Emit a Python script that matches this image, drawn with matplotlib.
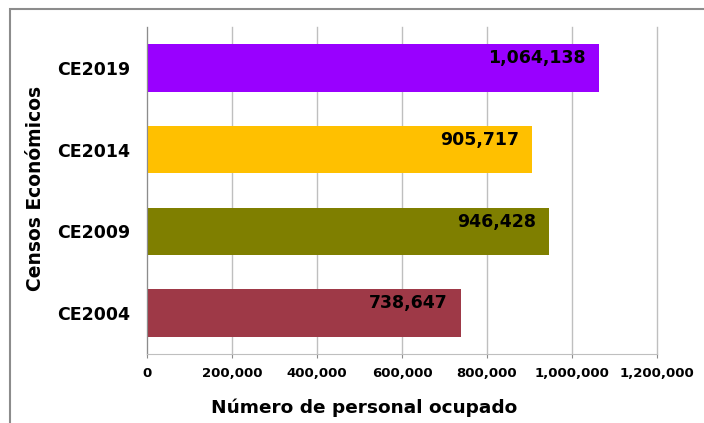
import matplotlib.pyplot as plt
from matplotlib.patches import Rectangle
from matplotlib.ticker import FuncFormatter

# datos de los censos
censos = ["CE2004", "CE2009", "CE2014", "CE2019"]
personal = [738647, 946428, 905717, 1064138]
colores = ["#9E3947", "#7F7F00", "#FFC000", "#9900FF"]
ticks_x = [0, 200000, 400000, 600000, 800000, 1000000, 1200000]

plt.rcParams["font.family"] = ["DejaVu Sans"]
plt.rcParams["font.weight"] = "bold"

fig = plt.figure(figsize=(7.04, 4.23), dpi=100)
ax = fig.add_axes([147 / 704, 69 / 423, 510 / 704, 327 / 423])

# marco exterior
fig.patches.append(Rectangle((9.5 / 704, -0.1), 1.0, 1.1 - 9.5 / 423,
                             transform=fig.transFigure, fill=False,
                             edgecolor="#8C8C8C", linewidth=1.5))

ax.barh(censos, personal, height=0.58, color=colores, zorder=2)

for i, valor in enumerate(personal):
    ax.annotate(f"{valor:,}", xy=(valor, i), xytext=(-9.5, 7),
                textcoords="offset points", ha="right", va="center",
                fontsize=12.5, fontweight="bold", color="black", zorder=3)

ax.set_xlim(0, 1200000)
ax.set_ylim(-0.5, 3.5)
ax.set_xticks(ticks_x)
ax.xaxis.set_major_formatter(FuncFormatter(lambda v, p: f"{int(v):,}"))
ax.tick_params(axis="x", length=3, color="#8C8C8C", pad=6, labelsize=9.5)
ax.tick_params(axis="y", length=0, pad=12, labelsize=12.5)
for lbl in ax.get_xticklabels() + ax.get_yticklabels():
    lbl.set_fontweight("bold")

ax.grid(axis="x", color="#BFBFBF", linewidth=1)
for gl in ax.get_xgridlines():
    gl.set_clip_on(False)
ax.set_axisbelow(True)
for lado in ["top", "right"]:
    ax.spines[lado].set_visible(False)
ax.spines["left"].set_color("#8C8C8C")
ax.spines["bottom"].set_color("#BFBFBF")

fig.text(364 / 704, 1 - 408 / 423, "Número de personal ocupado",
         ha="center", va="center", fontsize=13.3, fontweight="bold")
fig.text(36 / 704, 1 - 188 / 423, "Censos Económicos", rotation=90,
         ha="center", va="center", fontsize=13.5, fontweight="bold")

fig.savefig("out.png", dpi=100)
plt.close(fig)
